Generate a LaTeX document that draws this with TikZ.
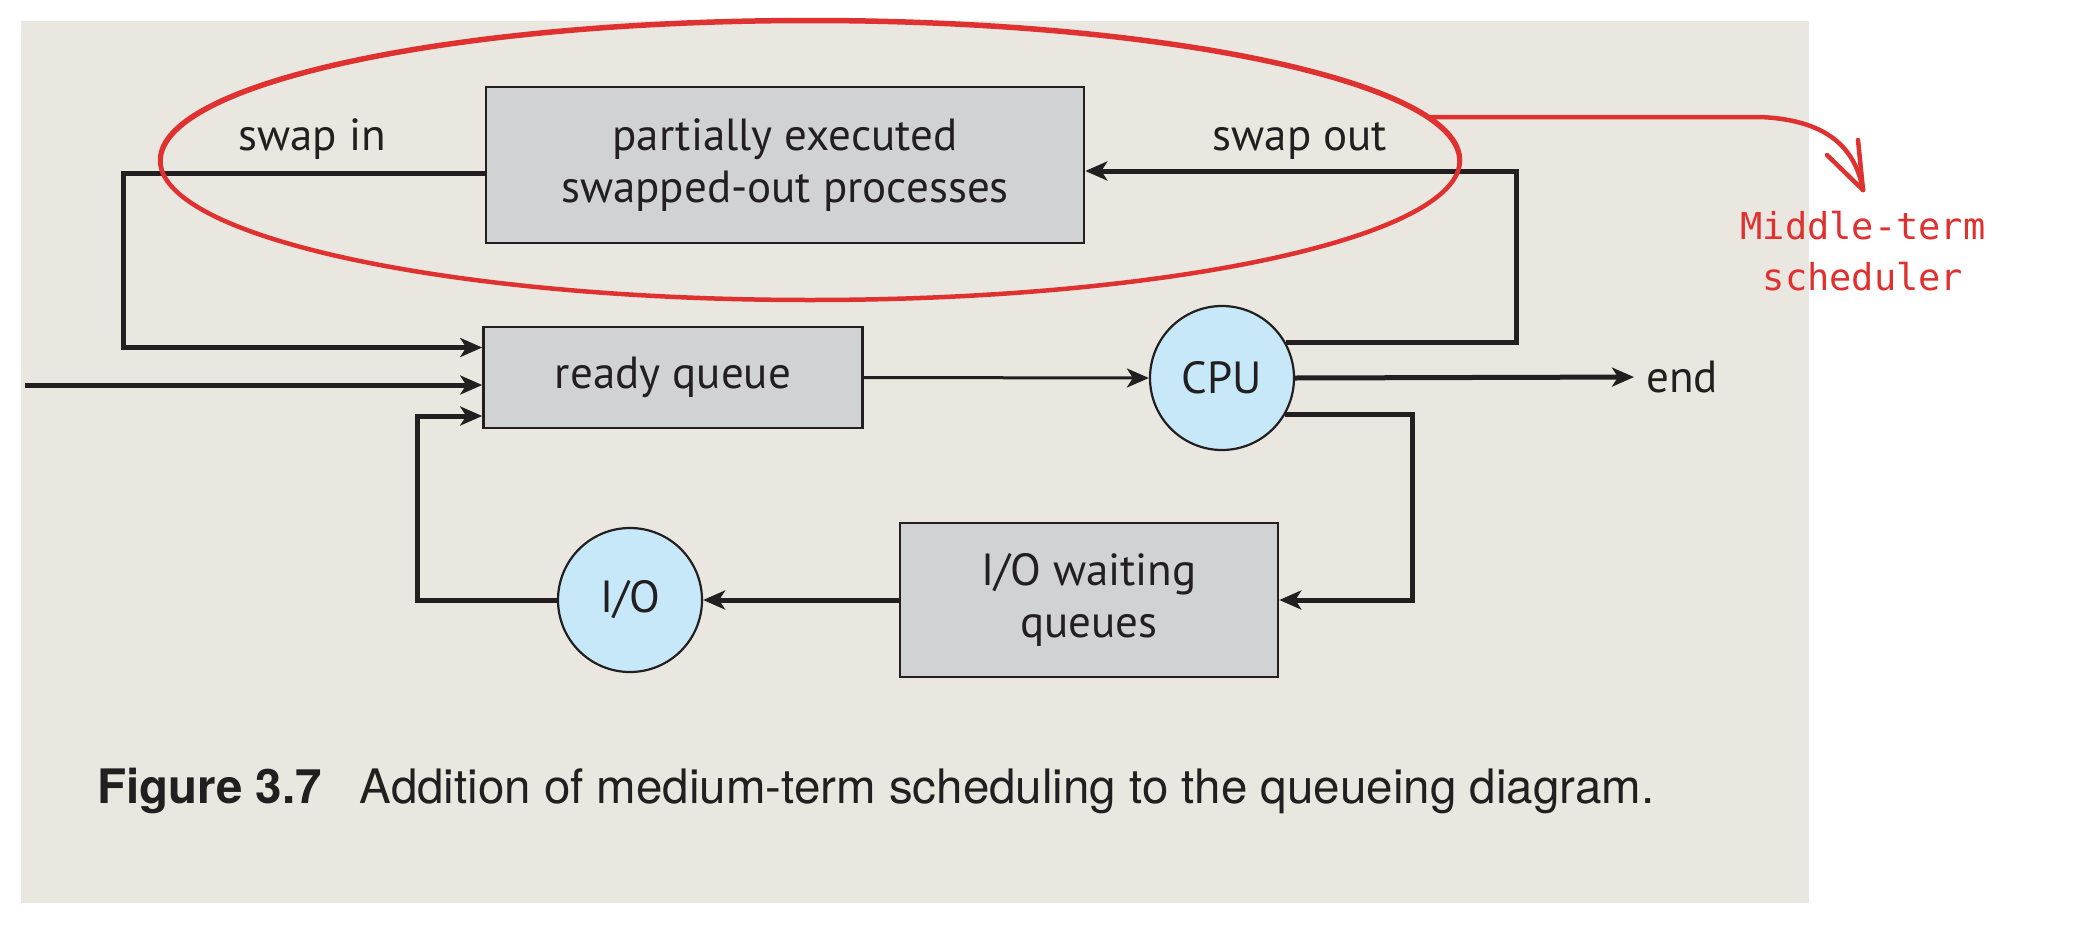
\documentclass[tikz,border=0pt]{standalone}
\usepackage{fontspec}
\usetikzlibrary{arrows.meta,shapes.geometric}
\newfontfamily\diagfont{PT Sans}
\newfontfamily\capfont{TeX Gyre Heros}
\newfontfamily\sketchfont{DejaVu Sans Mono}
\definecolor{panel}{HTML}{EAE7E0}
\definecolor{boxfill}{HTML}{D1D2D4}
\definecolor{circfill}{HTML}{C6E8F8}
\definecolor{inkk}{HTML}{231F20}
\definecolor{sketchred}{HTML}{E03131}
\begin{document}
\begin{tikzpicture}[x=1pt,y=-1pt,
  box/.style={draw=inkk, line width=2.6pt, fill=boxfill, inner sep=0pt, align=center,
    text=inkk, font=\diagfont\fontsize{45}{52}\selectfont},
  circ/.style={draw=inkk, line width=2.2pt, fill=circfill, circle, minimum size=144pt,
    inner sep=0pt, text=inkk, font=\diagfont\fontsize{45}{52}\selectfont},
  lbl/.style={inner sep=0pt, text=inkk, font=\diagfont\fontsize{45}{52}\selectfont},
  tip/.style={-{Stealth[length=22pt,width=19pt,inset=6pt]}},
  flow/.style={draw=inkk, line width=5pt, tip},
  flowthin/.style={draw=inkk, line width=3pt, tip},
  redline/.style={draw=sketchred, line width=4.5pt, line cap=round, line join=round},
]
% canvas and panel
\useasboundingbox (0,0) rectangle (2083,929);
\fill[white] (0,0) rectangle (2083,929);
\fill[panel] (21,21) rectangle (1809,903);

% nodes
\node[box, minimum width=598pt, minimum height=156pt] (pe) at (785,165)
  {partially executed\\swapped-out processes};
\node[box, minimum width=379pt, minimum height=101pt] (rq) at (673,377.5) {ready queue};
\node[box, minimum width=378pt, minimum height=154pt] (iow) at (1089,600)
  {I/O waiting\\queues};
\node[circ] (cpu) at (1222,378) {CPU};
\node[circ] (io) at (630,600) {I/O};

\node[lbl, anchor=base] (swin) at (312,150) {swap in};
\node[lbl, anchor=base] (swout) at (1300,150) {swap out};
\node[lbl, anchor=west] (endn) at (1646,377) {end};

% connectors
\coordinate (entry) at (25,385);
\coordinate (sicorner) at (123,173);
\coordinate (socorner) at (1516,171);
\coordinate (iocorner) at (1412,600);
\coordinate (rqcorner) at (417,600);

\draw[flow] ([yshift=-8pt]pe.west) -- (sicorner) |- ([yshift=30pt]rq.west);
\draw[flow] (entry) -- ([yshift=-7.5pt]rq.west);
\draw[flow] (io.west) -- (rqcorner) |- ([yshift=-38.5pt]rq.west);
\draw[flowthin] (rq.east) -- (cpu.west);
\draw[flow, shorten >=12pt] (cpu.east) -- (endn.west);
\draw[flow] (cpu.29) -| (socorner) -- ([yshift=-6pt]pe.east);
\draw[flow] (cpu.-30) -| (iocorner) -- (iow.east);
\draw[flow] (iow.west) -- (io.east);

% red annotation
\node[redline, draw, ellipse, minimum width=1300pt, minimum height=280pt, inner sep=0pt] (mts) at (810,160) {};
\draw[sketchred, line width=1.5pt] (810,161.5) ellipse [x radius=648pt, y radius=139pt];
\node[inner sep=0pt, anchor=north, align=center, text=sketchred,
  font=\sketchfont\fontsize{37}{51}\selectfont] (mtl) at (1863,211) {Middle-term\\scheduler};
\coordinate (rs) at (1430,117);
\coordinate (rk) at (1760,117);
\coordinate (rt) at (1863,190);
\draw[redline] (rs) -- (rk) .. controls (1832,120) and (1856,152) .. (rt);
\draw[redline] (rt) -- ++(-36,-35);
\draw[redline] (rt) -- ++(-5,-50);

% caption
\node[inner sep=0pt, anchor=base west, text=inkk, font=\capfont\fontsize{47.5}{56}\selectfont] (cap) at (97,803)
  {\bfseries Figure 3.7\hspace{38pt}\mdseries Addition of medium-term scheduling to the queueing diagram.};
\end{tikzpicture}
\end{document}
